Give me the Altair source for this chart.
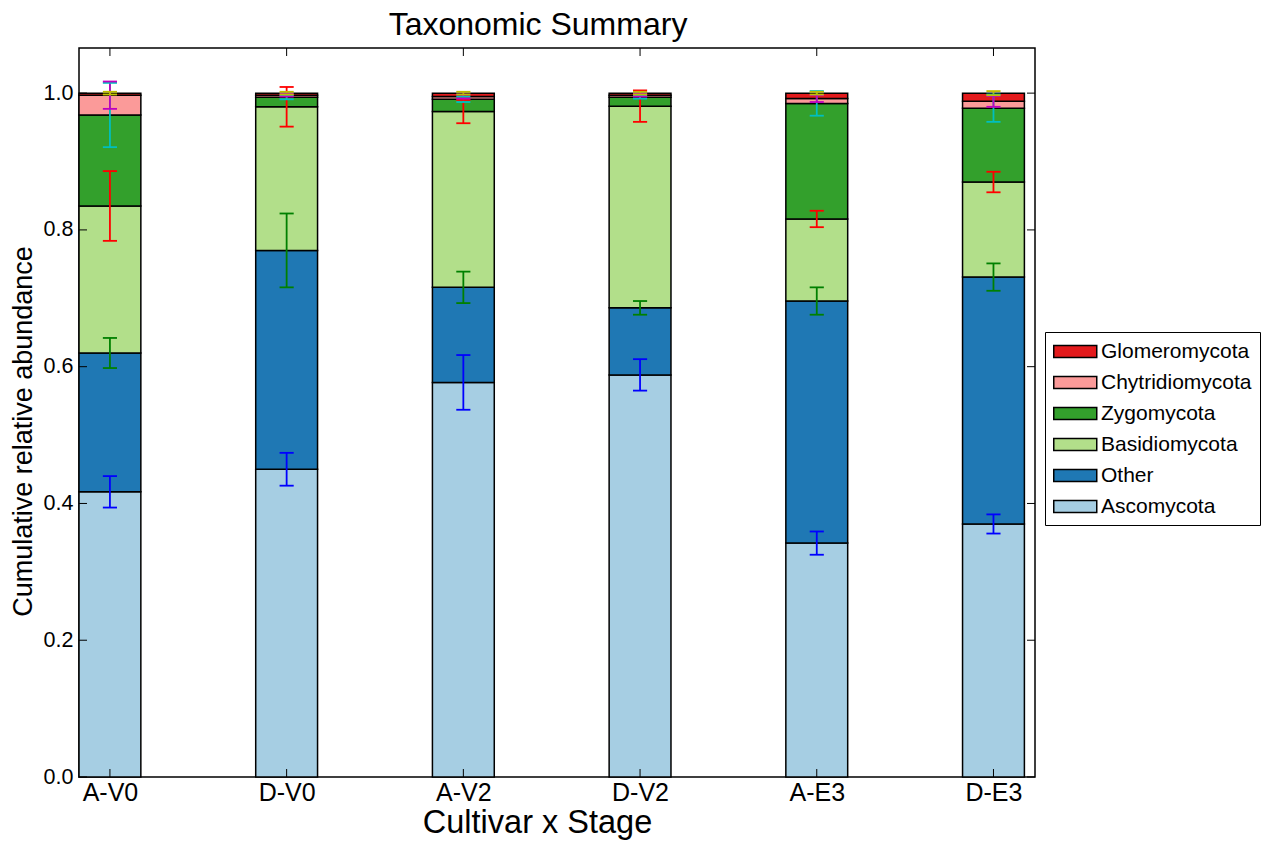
import altair as alt
import pandas as pd

# Samples (cultivar x stage) in plotting order
samples = ["A-V0", "D-V0", "A-V2", "D-V2", "A-E3", "D-E3"]

# Phyla from the bottom of each stack to the top
phyla = ["Ascomycota", "Other", "Basidiomycota", "Zygomycota", "Chytridiomycota", "Glomeromycota"]

# Mean relative abundance of each phylum per sample
ascomycota = [0.417, 0.450, 0.577, 0.588, 0.342, 0.370]
other = [0.203, 0.320, 0.139, 0.098, 0.354, 0.361]
basidiomycota = [0.215, 0.210, 0.257, 0.295, 0.120, 0.139]
zygomycota = [0.133, 0.014, 0.018, 0.013, 0.169, 0.108]
chytridiomycota = [0.029, 0.003, 0.004, 0.003, 0.007, 0.010]
glomeromycota = [0.003, 0.003, 0.005, 0.003, 0.008, 0.012]

# Standard errors for each phylum per sample
err_ascomycota = [0.023, 0.024, 0.040, 0.023, 0.017, 0.014]
err_other = [0.022, 0.054, 0.023, 0.010, 0.020, 0.020]
err_basidiomycota = [0.051, 0.029, 0.017, 0.023, 0.012, 0.015]
err_zygomycota = [0.047, 0.003, 0.004, 0.002, 0.018, 0.020]
err_chytridiomycota = [0.020, 0.002, 0.003, 0.002, 0.005, 0.008]
err_glomeromycota = [0.002, 0.002, 0.002, 0.002, 0.002, 0.003]

fill_colors = ["#a6cee3", "#1f78b4", "#b2df8a", "#33a02c", "#fb9a99", "#e31a1c"]
err_colors = ["#0000ff", "#008000", "#ff0000", "#00bfbf", "#bf00bf", "#bfbf00"]

y_tick_values = [0.0, 0.2, 0.4, 0.6, 0.8, 1.0]

means = [ascomycota, other, basidiomycota, zygomycota, chytridiomycota, glomeromycota]
errors = [err_ascomycota, err_other, err_basidiomycota, err_zygomycota,
          err_chytridiomycota, err_glomeromycota]

BAR_W = 0.35
CAP_HALF = 0.04
W, H = 956, 729
FONT = "Liberation Sans"

rows = []
for i, s in enumerate(samples):
    base = 0.0
    for k, p in enumerate(phyla):
        v = means[k][i]
        rows.append({"sample": s, "idx": i, "phylum": p, "rank": k,
                     "lo": base, "hi": base + v, "err": errors[k][i]})
        base += v
df = pd.DataFrame(rows)

x_scale = alt.Scale(domain=[0, 5.41], nice=False, zero=False)
y_scale = alt.Scale(domain=[0, 1.066], nice=False, zero=True)

label_expr = "[" + ",".join(f"'{s}'" for s in samples) + f"][round(datum.value - {BAR_W / 2})]"

x_axis = alt.Axis(values=[i + BAR_W / 2 for i in range(len(samples))], labelExpr=label_expr,
                  title="Cultivar x Stage", titleFontSize=32.5, titleFont=FONT,
                  titleFontWeight="normal", titleColor="black", titlePadding=1,
                  titleX=458, titleAnchor="middle",
                  labelFontSize=25, labelFont=FONT, labelColor="black", labelPadding=3,
                  ticks=False, domain=False, grid=False)
y_axis = alt.Axis(values=y_tick_values, format=".1f",
                  title="Cumulative relative abundance", titleFontSize=27, titleFont=FONT,
                  titleFontWeight="normal", titleColor="black", titlePadding=6,
                  titleY=383, titleAnchor="middle",
                  labelFontSize=21.5, labelFont=FONT, labelColor="black", labelPadding=6,
                  ticks=False, domain=False, grid=False)

# Wide rectangular swatches: the path spans 4 x 1.12 units, scaled by sqrt(size)/2
legend = alt.Legend(orient="none", legendX=966, legendY=284, title=None,
                    symbolType="M-1,-0.56L3,-0.56L3,0.56L-1,0.56Z", symbolSize=462.25,
                    symbolStrokeColor="black", symbolStrokeWidth=1.5, symbolOpacity=1,
                    labelFontSize=21, labelFont=FONT, labelColor="black", labelOffset=25,
                    strokeColor="black", fillColor="white", padding=8, rowPadding=9,
                    cornerRadius=0)

base = alt.Chart(df).transform_calculate(
    x0="datum.idx", x1=f"datum.idx + {BAR_W}", xc=f"datum.idx + {BAR_W / 2}",
    cl=f"datum.idx + {BAR_W / 2 - CAP_HALF}", cr=f"datum.idx + {BAR_W / 2 + CAP_HALF}",
    e_lo="datum.hi - datum.err", e_hi="datum.hi + datum.err",
)

bars = base.mark_rect(stroke="black", strokeWidth=1.5).encode(
    x=alt.X("x0:Q", scale=x_scale, axis=x_axis),
    x2="x1:Q",
    y=alt.Y("lo:Q", scale=y_scale, axis=y_axis),
    y2="hi:Q",
    fill=alt.Fill("phylum:N", scale=alt.Scale(domain=phyla[::-1], range=fill_colors[::-1]),
                  legend=legend),
    order=alt.Order("rank:Q"),
)

err_scale = alt.Scale(domain=phyla, range=err_colors)

err_lines = base.mark_rule(strokeWidth=1.8).encode(
    x="xc:Q", y="e_lo:Q", y2="e_hi:Q",
    stroke=alt.Stroke("phylum:N", scale=err_scale, legend=None),
)
cap_top = base.mark_rule(strokeWidth=1.8).encode(
    x="cl:Q", x2="cr:Q", y="e_hi:Q",
    stroke=alt.Stroke("phylum:N", scale=err_scale, legend=None),
)
cap_bot = base.mark_rule(strokeWidth=1.8).encode(
    x="cl:Q", x2="cr:Q", y="e_lo:Q",
    stroke=alt.Stroke("phylum:N", scale=err_scale, legend=None),
)

# Inward-pointing tick marks on all four sides of the frame
ytick_df = pd.DataFrame({"v": y_tick_values})
xtick_df = pd.DataFrame({"v": [i + BAR_W / 2 for i in range(len(samples))]})
TL = 8
ticks_left = alt.Chart(ytick_df).mark_rule(color="black", strokeWidth=1).encode(
    y="v:Q", x=alt.value(0), x2=alt.value(TL))
ticks_right = alt.Chart(ytick_df).mark_rule(color="black", strokeWidth=1).encode(
    y="v:Q", x=alt.value(W - TL), x2=alt.value(W))
ticks_bottom = alt.Chart(xtick_df).mark_rule(color="black", strokeWidth=1).encode(
    x="v:Q", y=alt.value(H - TL), y2=alt.value(H))
ticks_top = alt.Chart(xtick_df).mark_rule(color="black", strokeWidth=1).encode(
    x="v:Q", y=alt.value(0), y2=alt.value(TL))

chart = alt.layer(
    bars, err_lines, cap_top, cap_bot, ticks_left, ticks_right, ticks_bottom, ticks_top
).properties(
    width=W, height=H,
    title=alt.TitleParams("Taxonomic Summary", fontSize=32, font=FONT, fontWeight="normal",
                          color="black", offset=6, anchor="middle", dx=-19),
    autosize=alt.AutoSizeParams(type="none"),
    padding={"left": 79, "top": 48, "right": 231, "bottom": 66},
).configure(
    background="white",
    view=alt.ViewConfig(stroke="black", strokeWidth=1.5),
)

chart.save("out.html", embed_options={"renderer": "svg", "actions": False})
